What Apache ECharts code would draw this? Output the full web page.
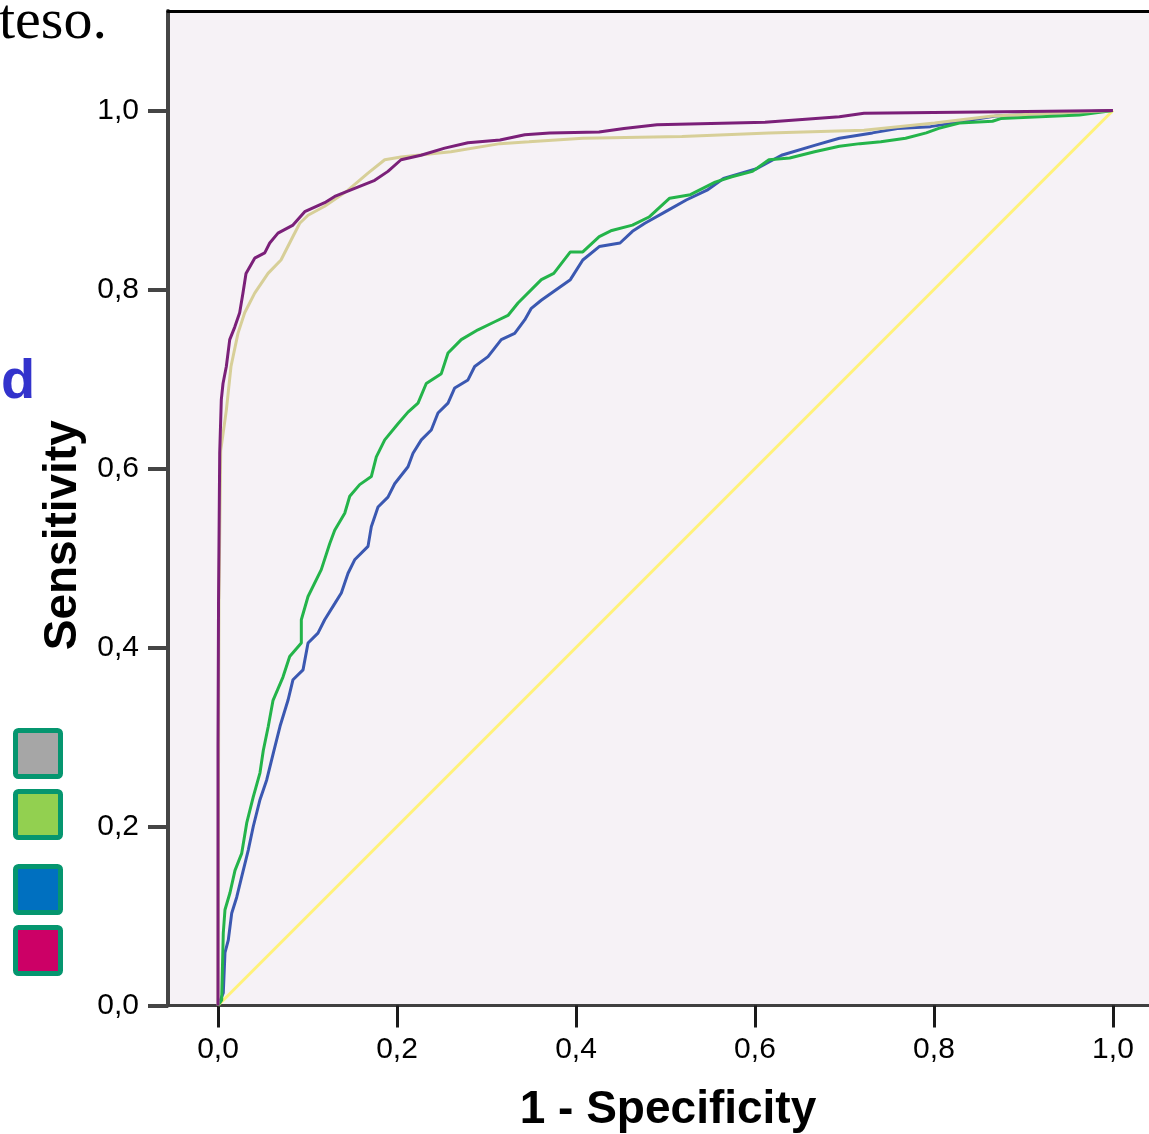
<!DOCTYPE html>
<html>
<head>
<meta charset="utf-8">
<script src="https://cdn.jsdelivr.net/npm/echarts@6/dist/echarts.min.js"></script>
<style>
  html, body { margin: 0; padding: 0; background: #ffffff; overflow: hidden; width: 1149px; height: 1134px; }
  #chart { width: 1200px; height: 1134px; }
</style>
</head>
<body>
<div id="chart"></div>
<script>
// ---- Data ----
const xTickValues = [0, 0.2, 0.4, 0.6, 0.8, 1.0];
const xTickLabels = ['0,0', '0,2', '0,4', '0,6', '0,8', '1,0'];
const yTickValues = [0, 0.2, 0.4, 0.6, 0.8, 1.0];
const yTickLabels = ['0,0', '0,2', '0,4', '0,6', '0,8', '1,0'];

const xAxisTitle = '1 - Specificity';
const yAxisTitle = 'Sensitivity';

// [1 - specificity, sensitivity]
const curvePurple = [
  [0, 0], [0, 0.289], [0.0006, 0.453], [0.0019, 0.617], [0.0037, 0.677], [0.0056, 0.695],
  [0.0093, 0.714], [0.0131, 0.744], [0.0187, 0.758], [0.0242, 0.774], [0.0279, 0.796],
  [0.0313, 0.818], [0.0410, 0.835], [0.0522, 0.841], [0.0578, 0.852], [0.0670, 0.863],
  [0.0838, 0.872], [0.0969, 0.887], [0.1192, 0.897], [0.1304, 0.904], [0.1527, 0.913],
  [0.1751, 0.922], [0.1899, 0.932], [0.2045, 0.945], [0.2268, 0.950], [0.2533, 0.958],
  [0.2793, 0.964], [0.3151, 0.967], [0.3428, 0.973], [0.3706, 0.975], [0.4257, 0.976],
  [0.4536, 0.980], [0.4905, 0.984], [0.6112, 0.987], [0.6943, 0.993], [0.7218, 0.997],
  [0.9024, 0.999], [1.0, 1.0]
];
const curveTan = [
  [0, 0], [0.001, 0.45], [0.003, 0.62], [0.0093, 0.665], [0.0145, 0.714], [0.0223, 0.751],
  [0.0298, 0.774], [0.0410, 0.796], [0.0559, 0.818], [0.0704, 0.833], [0.0816, 0.855],
  [0.0913, 0.874], [0.1006, 0.883], [0.1192, 0.893], [0.1453, 0.911], [0.1676, 0.930],
  [0.1863, 0.945], [0.2045, 0.948], [0.2603, 0.954], [0.3151, 0.963], [0.3475, 0.965],
  [0.4076, 0.969], [0.5184, 0.971], [0.6156, 0.975], [0.7218, 0.978], [0.8007, 0.986],
  [0.8654, 0.994], [1.0, 1.0]
];
const curveGreen = [
  [0, 0], [0.0041, 0.006], [0.0059, 0.081], [0.0078, 0.107], [0.0134, 0.126], [0.019, 0.151],
  [0.0265, 0.170], [0.0321, 0.204], [0.0394, 0.233], [0.0469, 0.260], [0.0506, 0.285],
  [0.0562, 0.312], [0.0615, 0.341], [0.0726, 0.367], [0.0801, 0.390], [0.0931, 0.405],
  [0.0931, 0.431], [0.1006, 0.457], [0.1154, 0.487], [0.1248, 0.516], [0.1304, 0.531],
  [0.1416, 0.550], [0.1472, 0.569], [0.1583, 0.582], [0.1713, 0.591], [0.1769, 0.613],
  [0.1863, 0.632], [0.2011, 0.650], [0.2123, 0.663], [0.2235, 0.673], [0.2327, 0.695],
  [0.2495, 0.706], [0.2570, 0.729], [0.2718, 0.744], [0.2905, 0.755], [0.3092, 0.764],
  [0.3240, 0.771], [0.3352, 0.785], [0.3613, 0.811], [0.3752, 0.818], [0.3937, 0.842],
  [0.4076, 0.842], [0.4260, 0.859], [0.4400, 0.866], [0.4631, 0.872], [0.4816, 0.881],
  [0.5047, 0.902], [0.5278, 0.906], [0.5555, 0.920], [0.5741, 0.926], [0.5972, 0.932],
  [0.6156, 0.945], [0.6388, 0.947], [0.6666, 0.954], [0.6943, 0.960], [0.7173, 0.963],
  [0.7406, 0.965], [0.7683, 0.969], [0.7914, 0.975], [0.8053, 0.980], [0.8284, 0.986],
  [0.8654, 0.988], [0.8746, 0.991], [0.9626, 0.995], [1.0, 1.0]
];
const curveBlue = [
  [0, 0], [0.0059, 0.014], [0.0078, 0.059], [0.0115, 0.073], [0.0153, 0.103], [0.0209, 0.121],
  [0.0265, 0.144], [0.0339, 0.174], [0.0394, 0.200], [0.0469, 0.230], [0.0544, 0.252],
  [0.0618, 0.282], [0.0693, 0.312], [0.0782, 0.341], [0.0838, 0.364], [0.0950, 0.375],
  [0.1006, 0.405], [0.1117, 0.416], [0.1192, 0.431], [0.1304, 0.449], [0.1378, 0.461],
  [0.1453, 0.483], [0.1527, 0.498], [0.1676, 0.513], [0.1713, 0.535], [0.1788, 0.557],
  [0.1899, 0.568], [0.1974, 0.583], [0.2123, 0.602], [0.2179, 0.617], [0.2272, 0.632],
  [0.2383, 0.643], [0.2458, 0.662], [0.2570, 0.673], [0.2645, 0.690], [0.2793, 0.699],
  [0.2868, 0.714], [0.3017, 0.725], [0.3165, 0.744], [0.3315, 0.751], [0.3427, 0.766],
  [0.3501, 0.779], [0.3612, 0.788], [0.3937, 0.811], [0.4076, 0.833], [0.4260, 0.848],
  [0.4492, 0.852], [0.4631, 0.865], [0.4770, 0.874], [0.5001, 0.887], [0.5232, 0.900],
  [0.5464, 0.911], [0.5648, 0.924], [0.6018, 0.935], [0.6296, 0.950], [0.6666, 0.961],
  [0.6943, 0.969], [0.7313, 0.975], [0.7591, 0.980], [0.7961, 0.982], [0.8701, 0.994],
  [1.0, 1.0]
];
const referenceLine = [[0, 0], [1, 1]];

const legendFills = ['#a6a6a6', '#92d050', '#0070c0', '#cc0066'];

// ---- Chart ----
const chart = echarts.init(document.getElementById('chart'), null, { renderer: 'canvas' });

function fmt(values, labels) {
  return function (v) {
    const i = values.findIndex(t => Math.abs(t - v) < 1e-6);
    return i >= 0 ? labels[i] : '';
  };
}

function lineSeries(name, data, color, z) {
  return {
    name: name, type: 'line', data: data, showSymbol: false, symbol: 'none',
    smooth: false, z: z, animation: false, clip: true,
    lineStyle: { color: color, width: 3 }
  };
}

const legendY = [730.5, 791.5, 866.5, 927.5];
const xMin = -0.05587, xMax = 1.0615;

const option = {
  animation: false,
  backgroundColor: '#ffffff',
  grid: {
    left: 168, top: 11, width: 1000, height: 994.5,
    outerBoundsMode: 'none', containLabel: false,
    show: true, backgroundColor: '#f6f2f6', borderWidth: 0
  },
  xAxis: [{
    type: 'value', min: xMin, max: xMax, position: 'bottom',
    name: xAxisTitle, nameLocation: 'middle', nameGap: 82,
    nameTextStyle: { fontFamily: 'Liberation Sans', fontSize: 46, fontWeight: 'bold', color: '#000' },
    axisLine: { show: true, onZero: false, lineStyle: { color: '#404040', width: 3 } },
    axisTick: { show: true, inside: false, length: 22, customValues: xTickValues,
                lineStyle: { color: '#1a1a1a', width: 3 } },
    axisLabel: { show: true, margin: 29, customValues: xTickValues,
                 formatter: fmt(xTickValues, xTickLabels),
                 fontFamily: 'Liberation Sans', fontSize: 30, color: '#000' },
    splitLine: { show: false }
  }, {
    type: 'value', min: xMin, max: xMax, position: 'top',
    axisLine: { show: true, onZero: false, lineStyle: { color: '#000000', width: 3 } },
    axisTick: { show: false }, axisLabel: { show: false }, splitLine: { show: false }
  }],
  yAxis: {
    type: 'value', min: 0, max: 1.1112,
    name: yAxisTitle, nameLocation: 'middle', nameGap: 82,
    nameTextStyle: { fontFamily: 'Liberation Sans', fontSize: 46, fontWeight: 'bold', color: '#000',
                     padding: [0, 54, 0, 0] },
    axisLine: { show: true, onZero: false, lineStyle: { color: '#454545', width: 4 } },
    axisTick: { show: true, inside: false, length: 20, customValues: yTickValues,
                lineStyle: { color: '#454545', width: 4 } },
    axisLabel: { show: true, margin: 29, customValues: yTickValues,
                 formatter: fmt(yTickValues, yTickLabels),
                 fontFamily: 'Liberation Sans', fontSize: 30, color: '#000' },
    splitLine: { show: false }
  },
  series: [
    lineSeries('Reference', referenceLine, '#fff27a', 1),
    lineSeries('Curve blue', curveBlue, '#3b58b1', 2),
    lineSeries('Curve green', curveGreen, '#24b44a', 3),
    lineSeries('Curve tan', curveTan, '#d7cf98', 4),
    lineSeries('Curve purple', curvePurple, '#7b2079', 5)
  ],
  graphic: [
    { type: 'text', left: -1, top: -6, z: 10,
      style: { text: 'teso.', fontFamily: 'Liberation Serif', fontSize: 58, fill: '#000' } },
    { type: 'text', x: 1, y: 383, z: 10,
      style: { text: 'd', fontFamily: 'Liberation Sans', fontSize: 56, fontWeight: 'bold',
               fill: '#3333cc', verticalAlign: 'middle' } }
  ].concat(legendFills.map((c, i) => ({
    type: 'rect', z: 10,
    shape: { x: 15.5, y: legendY[i], width: 45, height: 46, r: 3 },
    style: { fill: c, stroke: '#05966f', lineWidth: 5 }
  })))
};
chart.setOption(option);
</script>
</body>
</html>
